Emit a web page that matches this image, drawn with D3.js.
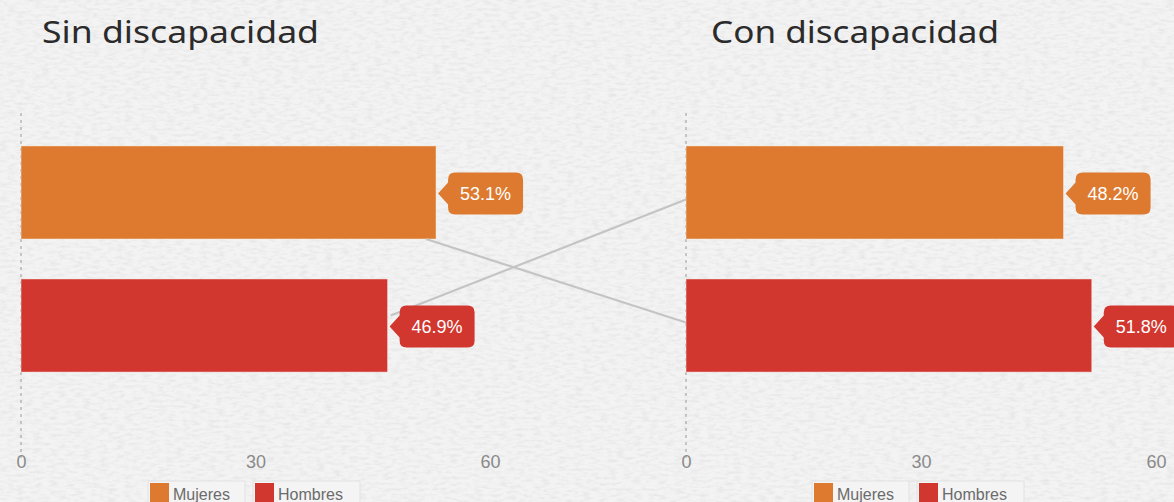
<!DOCTYPE html>
<html><head><meta charset="utf-8">
<script src="https://cdn.jsdelivr.net/npm/d3@7"></script>
<style>html,body{margin:0;padding:0;background:#efefef;overflow:hidden}</style>
</head><body>
<svg id="c" width="1174" height="502"></svg>
<script>
const panelTitles = ["Sin discapacidad", "Con discapacidad"];
const categories = ["Mujeres", "Hombres"];
const sinValues = [53.1, 46.9];
const conValues = [48.2, 51.8];
const tickValues = [0, 30, 60];
const colors = ["#DD7A2F", "#D2372F"];

const svg = d3.select("#c");
const W = 1174, H = 502;

// paper texture background
const defs = svg.append("defs");
const f = defs.append("filter").attr("id", "paper").attr("x", 0).attr("y", 0).attr("width", "100%").attr("height", "100%");
f.append("feTurbulence").attr("type", "fractalNoise").attr("baseFrequency", "0.12 0.35").attr("numOctaves", 3).attr("seed", 7).attr("result", "n");
f.append("feColorMatrix").attr("type", "matrix")
  .attr("values", "0 0 0 0 0.5  0 0 0 0 0.5  0 0 0 0 0.5  0 0 0 -2.2 1.3");
svg.append("rect").attr("width", W).attr("height", H).attr("fill", "#f3f3f3");
svg.append("rect").attr("width", W).attr("height", H).attr("filter", "url(#paper)").attr("opacity", 0.22);

const panels = [
  {title: panelTitles[0], values: sinValues, x: d3.scaleLinear().domain([0, 60]).range([21, 490]), titleX: 42, titleW: 277, legendX: 148},
  {title: panelTitles[1], values: conValues, x: d3.scaleLinear().domain([0, 60]).range([686, 1156]), titleX: 711, titleW: 288, legendX: 812}
];
const y = d3.scaleBand().domain(categories).range([106, 412]).paddingInner(0.3).paddingOuter(0.3);

// connecting lines
const L = panels[0], R = panels[1];
const links = [
  [[L.x(conValues[1]), y(categories[0]) + y.bandwidth()], [R.x(0), y(categories[1]) + y.bandwidth() / 2 - 3]],
  [[L.x(sinValues[1]) + 3, y(categories[1]) + y.bandwidth() / 2 - 10], [R.x(0), y(categories[0]) + y.bandwidth() / 2 + 7]]
];

panels.forEach((p, pi) => {
  const g = svg.append("g");
  g.append("text").attr("x", p.titleX).attr("y", 43).text(p.title)
    .attr("font-family", "'Noto Sans', 'Open Sans', sans-serif").attr("font-size", 31)
    .attr("fill", "#2b2b2b").attr("textLength", p.titleW).attr("lengthAdjust", "spacingAndGlyphs");

  // dashed zero axis line
  g.append("line").attr("x1", p.x(0)).attr("x2", p.x(0)).attr("y1", 113).attr("y2", 458)
    .attr("stroke", "#999").attr("stroke-width", 1).attr("stroke-dasharray", "3,4");

  // ticks
  const ax = d3.axisBottom(p.x).tickValues(tickValues).tickSize(0).tickPadding(0);
  const axg = g.append("g").attr("transform", "translate(0,455)").call(ax);
  axg.select(".domain").remove();
  axg.selectAll("text").attr("font-family", "Arial, 'Liberation Sans', sans-serif").attr("font-size", 18)
    .attr("fill", "#8a8a8a").attr("dy", "0.72em");

  // bars
  g.selectAll("rect.bar").data(categories).join("rect").attr("class", "bar")
    .attr("x", p.x(0)).attr("y", d => y(d))
    .attr("width", (d, i) => p.x(p.values[i]) - p.x(0)).attr("height", y.bandwidth())
    .attr("fill", (d, i) => colors[i]).attr("stroke", "rgba(255,255,255,0.45)").attr("stroke-width", 1);
});

svg.append("g").selectAll("line").data(links).join("line")
  .attr("x1", d => d[0][0]).attr("y1", d => d[0][1]).attr("x2", d => d[1][0]).attr("y2", d => d[1][1])
  .attr("stroke", "#c4c4c4").attr("stroke-width", 2.2);

panels.forEach(p => {
  const g = svg.append("g");
  // value tags
  categories.forEach((c, i) => {
    const tip = p.x(p.values[i]) + 2;
    const cy = y(c) + y.bandwidth() / 2 + 1;
    const bx = tip + 10, bw = 75, bh = 42, r = 7;
    const path = `M${tip},${cy} L${bx},${cy - 11} L${bx},${cy - bh / 2 + r} Q${bx},${cy - bh / 2} ${bx + r},${cy - bh / 2}
      L${bx + bw - r},${cy - bh / 2} Q${bx + bw},${cy - bh / 2} ${bx + bw},${cy - bh / 2 + r}
      L${bx + bw},${cy + bh / 2 - r} Q${bx + bw},${cy + bh / 2} ${bx + bw - r},${cy + bh / 2}
      L${bx + r},${cy + bh / 2} Q${bx},${cy + bh / 2} ${bx},${cy + bh / 2 - r} L${bx},${cy + 11} Z`;
    g.append("path").attr("d", path).attr("fill", colors[i]);
    g.append("text").attr("x", bx + bw / 2).attr("y", cy).attr("dy", "0.36em").attr("text-anchor", "middle")
      .attr("font-family", "Arial, 'Liberation Sans', sans-serif").attr("font-size", 18).attr("fill", "#fff")
      .text(d3.format(".1f")(p.values[i]) + "%");
  });

  // legend
  const lg = g.append("g").attr("transform", `translate(${p.legendX},481)`);
  const widths = [97, 107];
  let off = 0;
  categories.forEach((c, i) => {
    const it = lg.append("g").attr("transform", `translate(${off},0)`);
    it.append("rect").attr("width", widths[i]).attr("height", 24).attr("fill", "#f4f4f4").attr("stroke", "#e2e2e2");
    it.append("rect").attr("x", 2).attr("y", 2).attr("width", 19).attr("height", 20).attr("fill", colors[i]);
    it.append("text").attr("x", 25).attr("y", 13).attr("dy", "0.36em")
      .attr("font-family", "Arial, 'Liberation Sans', sans-serif").attr("font-size", 16).attr("fill", "#6b6b6b").text(c);
    off += widths[i] + 8;
  });
});
</script>
</body></html>
